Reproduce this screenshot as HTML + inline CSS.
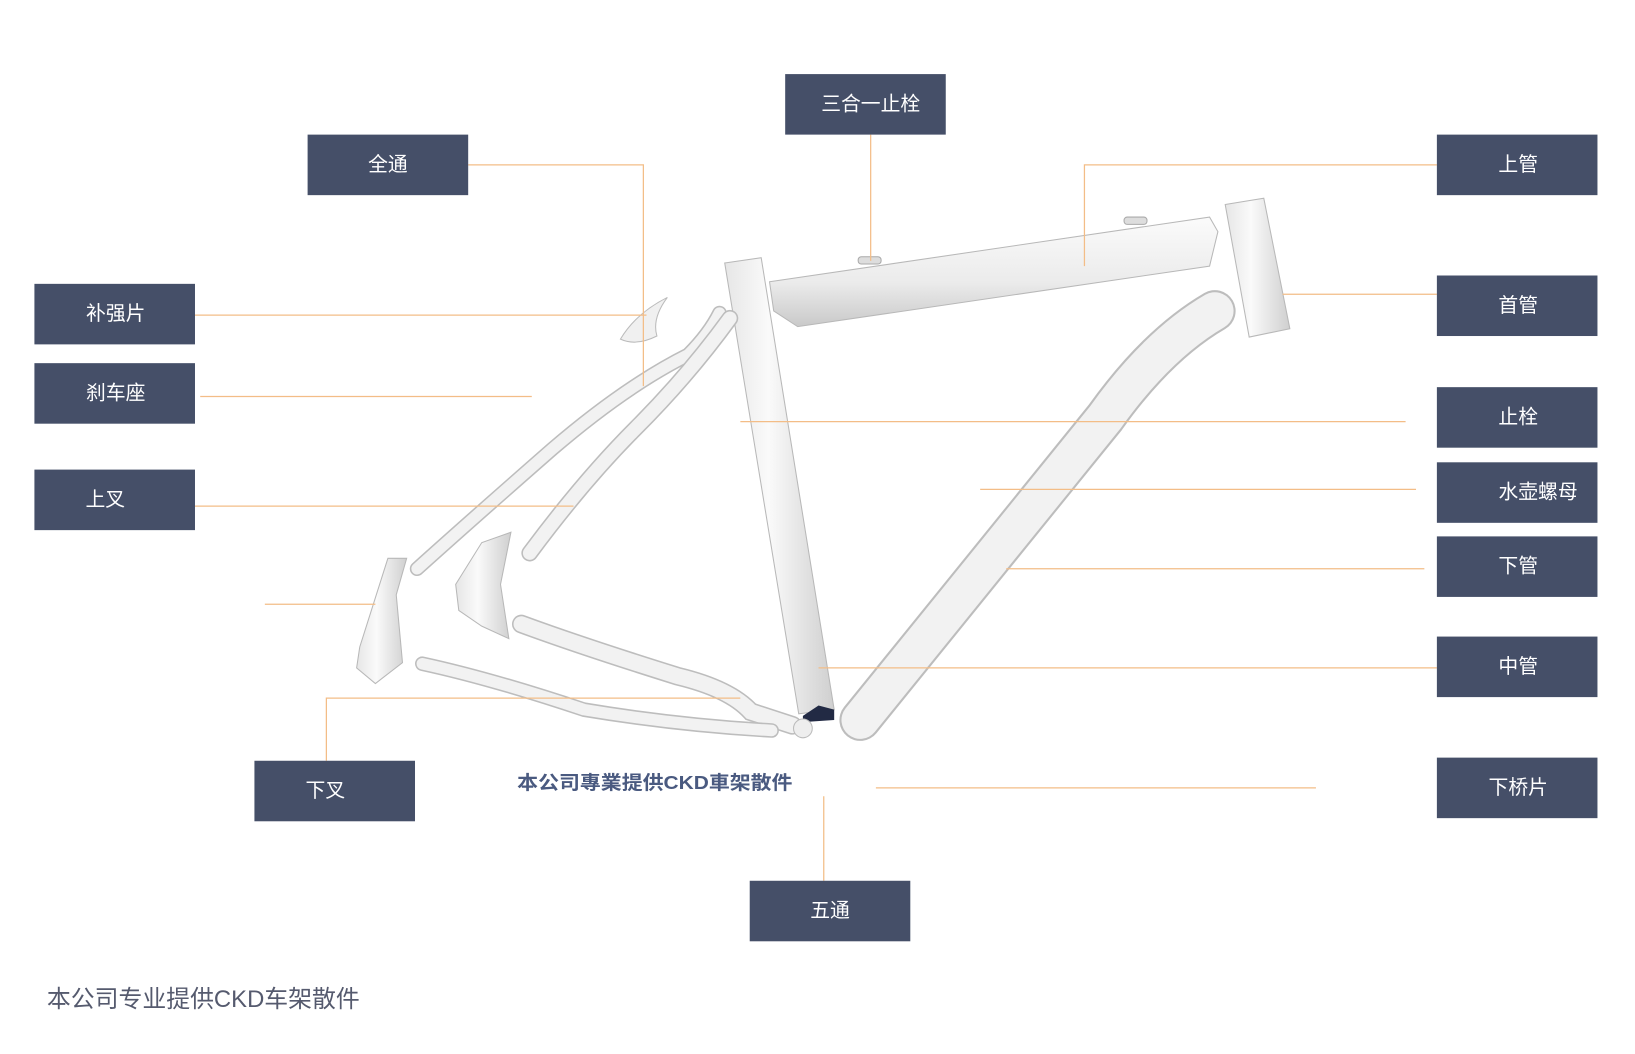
<!DOCTYPE html>
<html><head><meta charset="utf-8"><style>
html,body{margin:0;padding:0;background:#fff;width:1635px;height:1054px;overflow:hidden}
svg{display:block}
.box{fill:#454f68}
.bt{fill:#fff;font-family:"Liberation Sans","Noto Sans CJK SC",sans-serif;font-size:19px;text-anchor:middle;dominant-baseline:central}
.ln{stroke:#f3bd87;stroke-width:1.2;fill:none}
.tube{fill:url(#g1);stroke:#b8b8b8;stroke-width:1}
.tube2{fill:url(#g2);stroke:#b8b8b8;stroke-width:1}
.st{fill:none;stroke:#bdbdbd;stroke-linecap:round}
.sti{fill:none;stroke:#f2f2f2;stroke-linecap:round}
</style></head><body>
<svg width="1635" height="1054" viewBox="0 0 1568 1010" preserveAspectRatio="none" xmlns="http://www.w3.org/2000/svg">
<defs>
<linearGradient id="g1" x1="0" y1="0" x2="1" y2="0"><stop offset="0" stop-color="#e6e6e6"/><stop offset="0.4" stop-color="#fafafa"/><stop offset="1" stop-color="#cfcfcf"/></linearGradient>
<linearGradient id="g2" x1="0" y1="0" x2="0" y2="1"><stop offset="0" stop-color="#fbfbfb"/><stop offset="0.6" stop-color="#ebebeb"/><stop offset="1" stop-color="#c9c9c9"/></linearGradient>
</defs>
<polygon class="tube2" points="738,270 1160,208 1168,222 1160,255 765,313 742,298"/>
<polygon class="tube" points="1175,196 1212,190 1237,315 1198,323"/>
<path class="st" stroke-width="40" d="M825,690 L1060,400 Q1110,330 1165,298"/>
<path class="sti" stroke-width="36" d="M825,690 L1060,400 Q1110,330 1165,298"/>
<polygon class="tube" points="695,252 730,247 800,680 766,684"/>
<path class="st" stroke-width="18" d="M500,598 Q560,620 650,648 Q700,660 720,682 L760,695"/>
<path class="sti" stroke-width="15" d="M500,598 Q560,620 650,648 Q700,660 720,682 L760,695"/>
<path class="st" stroke-width="14" d="M405,636 Q470,650 560,680 Q650,695 740,700"/>
<path class="sti" stroke-width="11" d="M405,636 Q470,650 560,680 Q650,695 740,700"/>
<path class="st" stroke-width="14" d="M400,545 Q450,500 530,430 Q600,370 660,340 Q680,320 690,300"/>
<path class="sti" stroke-width="11" d="M400,545 Q450,500 530,430 Q600,370 660,340 Q680,320 690,300"/>
<path class="st" stroke-width="16" d="M508,530 Q560,460 610,410 Q660,360 700,305"/>
<path class="sti" stroke-width="13" d="M508,530 Q560,460 610,410 Q660,360 700,305"/>
<path d="M595,325 Q610,300 640,285 Q625,305 630,322 Q610,332 595,325Z" fill="#f0f0f0" stroke="#bbb"/>
<polygon class="tube" points="345,620 372,535 390,535 380,570 386,635 360,655 342,640"/>
<polygon class="tube" points="437,560 462,520 490,510 480,560 488,612 462,600 440,585"/>
<polygon fill="#222a44" points="770,686 785,676 800,680 800,690 770,692"/>
<circle cx="770" cy="698" r="9" fill="#eee" stroke="#bbb"/>
<rect x="823" y="246" width="22" height="7" rx="3" fill="#ddd" stroke="#aaa"/>
<rect x="1078" y="208" width="22" height="7" rx="3" fill="#ddd" stroke="#aaa"/>
<polyline class="ln" points="449,158 617,158 617,370"/>
<polyline class="ln" points="835,129 835,250"/>
<polyline class="ln" points="1378,158 1040,158 1040,255"/>
<polyline class="ln" points="1378,282 1230,282"/>
<polyline class="ln" points="187,302 620,302"/>
<polyline class="ln" points="192,380 510,380"/>
<polyline class="ln" points="1348,404 710,404"/>
<polyline class="ln" points="1358,469 940,469"/>
<polyline class="ln" points="187,485 550,485"/>
<polyline class="ln" points="1366,545 965,545"/>
<polyline class="ln" points="1378,640 785,640"/>
<polyline class="ln" points="254,579 360,579"/>
<polyline class="ln" points="313,729 313,669 710,669"/>
<polyline class="ln" points="840,755 1262,755"/>
<polyline class="ln" points="790,763 790,844"/>
<rect class="box" x="753" y="71" width="154" height="58"/><text class="bt" x="835" y="100">三合一止栓</text>
<rect class="box" x="295" y="129" width="154" height="58"/><text class="bt" x="372" y="158">全通</text>
<rect class="box" x="1378" y="129" width="154" height="58"/><text class="bt" x="1456" y="158">上管</text>
<rect class="box" x="33" y="272" width="154" height="58"/><text class="bt" x="111" y="301">补强片</text>
<rect class="box" x="1378" y="264" width="154" height="58"/><text class="bt" x="1456" y="293">首管</text>
<rect class="box" x="33" y="348" width="154" height="58"/><text class="bt" x="111" y="377">刹车座</text>
<rect class="box" x="1378" y="371" width="154" height="58"/><text class="bt" x="1456" y="400">止栓</text>
<rect class="box" x="1378" y="443" width="154" height="58"/><text class="bt" x="1475" y="472">水壶螺母</text>
<rect class="box" x="33" y="450" width="154" height="58"/><text class="bt" x="101" y="479">上叉</text>
<rect class="box" x="1378" y="514" width="154" height="58"/><text class="bt" x="1456" y="543">下管</text>
<rect class="box" x="1378" y="610" width="154" height="58"/><text class="bt" x="1456" y="639">中管</text>
<rect class="box" x="244" y="729" width="154" height="58"/><text class="bt" x="312" y="758">下叉</text>
<rect class="box" x="1378" y="726" width="154" height="58"/><text class="bt" x="1456" y="755">下桥片</text>
<rect class="box" x="719" y="844" width="154" height="58"/><text class="bt" x="796" y="873">五通</text>
<text x="496" y="756" fill="#4a5a80" font-weight="bold" font-size="18" textLength="264" lengthAdjust="spacingAndGlyphs" font-family="'Liberation Sans','Noto Sans CJK SC',sans-serif">本公司專業提供CKD車架散件</text>
<text x="45" y="965" fill="#555a6e" font-size="23" textLength="300" lengthAdjust="spacingAndGlyphs" font-family="'Liberation Sans','Noto Sans CJK SC',sans-serif">本公司专业提供CKD车架散件</text>
</svg>
</body></html>
